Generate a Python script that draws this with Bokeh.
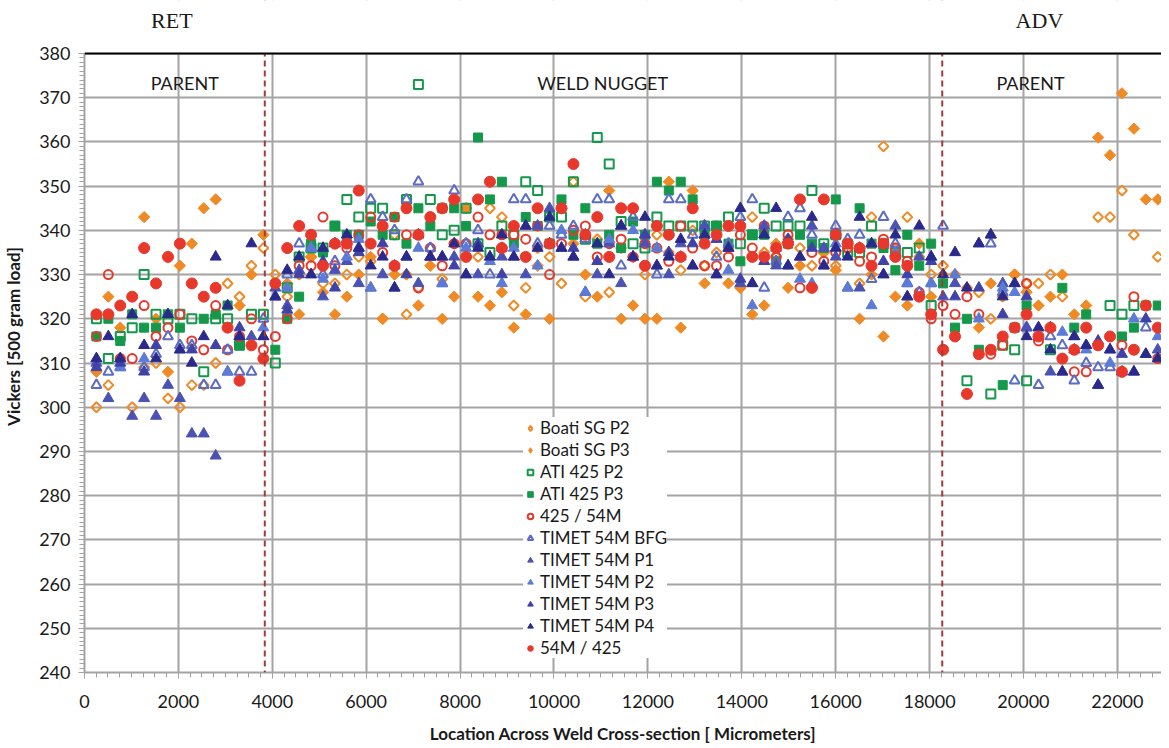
from bokeh.plotting import figure
from bokeh.models import (ColumnDataSource, Label, Span, Legend, LegendItem,
                          FixedTicker, Range1d, BoxAnnotation)
from bokeh.embed import file_html
from bokeh.resources import INLINE

# ---------------- data ----------------
x_um = [254, 508, 762, 1016, 1270, 1524, 1778, 2032, 2286, 2540,
        2794, 3048, 3302, 3556, 3810, 4064, 4318, 4572, 4826, 5080,
        5334, 5588, 5842, 6096, 6350, 6604, 6858, 7112, 7366, 7620,
        7874, 8128, 8382, 8636, 8890, 9144, 9398, 9652, 9906, 10160,
        10414, 10668, 10922, 11176, 11430, 11684, 11938, 12192, 12446, 12700,
        12954, 13208, 13462, 13716, 13970, 14224, 14478, 14732, 14986, 15240,
        15494, 15748, 16002, 16256, 16510, 16764, 17018, 17272, 17526, 17780,
        18034, 18288, 18542, 18796, 19050, 19304, 19558, 19812, 20066, 20320,
        20574, 20828, 21082, 21336, 21590, 21844, 22098, 22352, 22606, 22860]

boati_p2 = [300, 305, 311, 300, 309, 310, 302, 300, 305, 305,
            310, 328, 325, 332, 336, 330, 325, 330, 334, 328,
            328, 330, 334, 333, 320, 339, 321, 327, 336, 329,
            337, 345, 334, 345, 343, 323, 327, 336, 334, 328,
            351, 325, 338, 326, 336, 334, 330, 339, 335, 331,
            340, 332, 335, 336, 327, 343, 335, 334, 338, 336,
            332, 335, 332, 336, 328, 343, 359, 336, 343, 334,
            330, 332, 330, 327, 326, 320, 325, 330, 328, 328,
            330, 325, None, None, 343, 343, 349, 339, None, 334]

boati_p3 = [308, 325, 318, None, 343, 320, 308, 332, 337, 345,
            347, None, 323, 330, 339, None, 328, 321, 334, 326,
            321, 325, 330, 334, 320, 330, 330, 323, 332, 320,
            325, 345, 325, 323, 326, 318, 321, 332, 320, 345,
            337, 330, 325, 349, 320, 323, 320, 320, 351, 318,
            349, 328, 341, 328, 327, 321, 323, 337, 327, 332,
            327, 335, 331, 337, 320, 330, 316, 325, 323, 337,
            325, 330, None, None, 318, 328, None, 330, 326, 323,
            325, 330, 321, 323, 361, 357, 371, 363, 347, 347]

ati_p2 = [320, 311, 316, 318, 330, 321, 320, 321, 320, 308,
          320, 320, 314, 321, 321, 310, 327, 334, 336, 336,
          341, 347, 343, 345, 345, 339, 347, 373, 347, 339,
          340, 345, 337, 335, 341, 339, 351, 349, 343, 343,
          351, 338, 361, 355, 342, 337, 336, 343, 341, 341,
          341, 341, 341, 343, 337, 339, 345, 341, 341, 341,
          349, 337, 339, 335, 335, 341, 337, 335, 335, 336,
          323, None, None, 306, None, 303, 314, 313, 306, None,
          313, None, None, None, None, 323, 321, 323, None, None]

ati_p3 = [316, 320, 315, 321, 318, 318, 321, 318, None, 320,
          321, 323, 314, None, None, 313, 320, 325, 337, 335,
          341, 339, 339, 342, 339, 343, 337, 345, 341, 345,
          345, 341, 361, 347, 351, 337, 343, 341, 337, 347,
          339, 345, 337, 339, 336, 342, 339, 351, 349, 351,
          347, 339, 341, 337, 333, 339, 339, 333, 337, 339,
          337, 336, 347, 337, 345, 337, 336, 331, 339, 332,
          337, 328, 318, 320, 313, None, 305, 318, 323, None,
          None, 327, 318, 321, None, None, 316, 318, 323, 323]

c425_54m = [316, 330, 311, 311, 323, 316, 318, 321, 315, 313,
            323, 313, 316, 320, 313, 316, 320, 332, 332, 343,
            332, 336, 339, 343, 335, 343, 339, 327, 336, 332,
            337, 337, 343, 339, 339, 339, 338, 341, 330, 337,
            340, 341, 334, 337, 338, 334, 337, 336, 333, 341,
            336, 332, 332, 334, 339, 336, 341, 334, 339, 327,
            335, 333, 335, 336, 333, 334, 338, 336, 333, 326,
            320, 323, 321, 325, 321, 312, 314, None, 328, 315,
            None, None, 308, 308, None, None, 314, 325, None, 311]

timet_bfg = [305, 308, 309, None, 309, 312, 316, 314, 314, 305,
             305, 313, 308, 308, 320, 325, 330, 337, 336, 330,
             333, 338, 336, 347, 343, 340, 347, 351, 336, 328,
             349, 337, 340, 330, 336, 347, 347, 337, 341, 339,
             341, 338, 347, 347, 332, 343, 339, 330, 347, 347,
             339, 341, 334, 337, 343, 347, 327, 333, 343, 345,
             339, 332, 341, 338, 339, 329, 343, 337, 328, 326,
             328, 341, None, None, None, 337, 326, 306, 318, 305,
             316, 314, 306, 310, 309, 309, None, None, 318, None]

timet_p1 = [310, 302, 311, 298, 302, 298, 305, 302, 294, 294,
            289, 308, 316, 316, 316, 327, 323, 331, 330, 325,
            331, 333, 328, 327, 330, 327, 334, 328, 334, 334,
            334, 330, 330, 334, 334, 334, 330, 341, 345, 336,
            334, 326, 330, 337, 328, 334, 337, 332, 330, 337,
            332, 341, 330, 336, 328, 328, 341, 332, 332, 334,
            341, 336, 334, 327, 327, 337, 330, 341, 325, 334,
            334, 325, 328, None, 337, 339, 328, 328, 318, 316,
            308, 308, 316, 314, 305, 313, None, 308, 312, 313]

timet_p2 = [311, None, 309, None, 311, None, None, 313, None, None,
            None, 308, None, None, 318, 325, 327, None, 336, 329,
            None, 334, 338, 327, None, 332, None, 336, None, 328,
            None, 336, None, 333, 328, 336, None, 332, None, 340,
            None, 326, None, 338, None, 340, None, 336, None, 334,
            None, 339, None, 331, None, 323, None, 336, None, 329,
            328, None, 337, 327, None, 323, None, 335, 328, None,
            328, None, 330, None, 320, None, 327, 326, None, 318,
            None, 317, None, 313, None, 310, None, 320, None, 316]

timet_p3 = [309, None, 310, None, 308, 314, None, None, 313, None,
            314, None, 318, None, None, None, 322, 330, None, 333,
            327, None, 335, None, 337, None, 330, None, 334, None,
            332, None, 337, None, 330, None, 341, None, 337, None,
            336, None, 333, None, 341, None, 339, None, 335, None,
            337, None, 338, None, 329, None, 333, None, 338, None,
            336, None, 339, None, 336, None, 333, None, 330, None,
            333, None, 325, None, 327, None, 321, None, 325, None,
            318, None, 313, None, 315, None, 312, None, 320, None]

timet_p4 = [311, 316, 311, 321, 314, 311, 321, 313, 310, 316,
            334, 323, 316, 337, 316, 325, 331, 334, 330, 336,
            337, 339, 336, 332, 334, 327, 334, 339, 334, 334,
            337, 330, 336, 334, 339, 334, 341, 336, 343, 336,
            334, 339, 337, 330, 341, 334, 343, 332, 334, 338,
            332, 339, 330, 336, 345, 328, 339, 345, 332, 334,
            343, 332, 336, 334, 343, 337, 330, 339, 325, 341,
            334, 330, 335, 327, 337, 339, 325, 328, 316, 318,
            313, 308, 316, 314, 305, 313, 308, 308, 312, 311]

m54_425 = [321, 321, 323, 325, 336, 328, 334, 337, 328, 325,
           327, 318, 306, 314, 311, 328, 336, 341, 339, 332,
           337, 337, 349, 337, 341, 332, 345, 339, 343, 345,
           347, 334, 347, 351, 336, 341, 334, 345, 337, 345,
           355, 339, 343, 334, 345, 345, 332, 341, 339, 334,
           345, 337, 339, 341, 341, 334, 334, 336, 337, 347,
           327, 347, 339, 337, 336, 332, 337, 334, 332, 325,
           321, 313, 316, 303, 312, 313, 316, 318, 321, 316,
           318, 311, 313, 318, 314, 316, 308, 313, 323, 318]

x_ticks = [0, 2000, 4000, 6000, 8000, 10000, 12000, 14000, 16000, 18000, 20000, 22000]
y_ticks = [240, 250, 260, 270, 280, 290, 300, 310, 320, 330, 340, 350, 360, 370, 380]
zone_bounds = [3840, 18270]

Y_MIN, Y_MAX = 240, 380

# ---------------- figure ----------------
# frame extends above 380 so that the RET / ADV labels can be drawn; that strip is blanked
p = figure(width=1161, height=748, x_range=Range1d(0, 22940), y_range=Range1d(Y_MIN, 391.99),
           output_backend="svg", toolbar_location=None,
           min_border_left=76, min_border_right=0, min_border_top=0, min_border_bottom=76)
p.outline_line_color = None
p.background_fill_color = "white"
p.border_fill_color = "white"

GRID = "#a3a3a3"
p.xaxis.ticker = FixedTicker(ticks=x_ticks, minor_ticks=list(range(0, 23000, 250)))
p.yaxis.ticker = FixedTicker(ticks=y_ticks, minor_ticks=list(range(Y_MIN, Y_MAX + 1, 1)))
p.yaxis.bounds = (Y_MIN, Y_MAX)
for g in (p.xgrid, p.ygrid):
    g.grid_line_color = GRID
    g.grid_line_width = 2

for ax in (p.xaxis, p.yaxis):
    ax.axis_line_color = GRID
    ax.axis_line_width = 2
    ax.major_tick_line_color = GRID
    ax.minor_tick_line_color = GRID
    ax.major_tick_in = 0
    ax.minor_tick_in = 0
    ax.major_tick_out = 6
    ax.minor_tick_out = 5
    ax.major_label_text_font = "Lato"
    ax.major_label_text_font_size = "18px"
    ax.major_label_text_color = "#1a1a1a"
    ax.axis_label_text_font = "Lato"
    ax.axis_label_text_font_style = "bold"
    ax.axis_label_text_font_size = "17px"
    ax.axis_label_text_color = "#1a1a1a"

p.xaxis.axis_label = "Location Across Weld Cross-section [ Micrometers]"
p.xaxis.major_label_standoff = 16
p.xaxis.axis_label_standoff = 12
p.yaxis.axis_label = "Vickers [500 gram load]"
p.yaxis.major_label_standoff = 8
p.yaxis.axis_label_standoff = 12

ORANGE = "#f08a24"
GREEN = "#14994a"
RED = "#e8382b"
BFG = "#5b6cc4"
P1 = "#4a52b3"
P2 = "#5c7bd6"
P3 = "#3f43a8"
P4 = "#2a2a8c"


def src(vals):
    xs = [x for x, v in zip(x_um, vals) if v is not None]
    ys = [v for v in vals if v is not None]
    return ColumnDataSource(dict(x=xs, y=ys))


items = []


def add(label, vals, marker, color, filled, size, angle=0.0, legend_marker=None, legend_size=None):
    fc = color if filled else None
    lw = 1 if filled else 2
    s = src(vals)
    r = p.scatter("x", "y", source=s, marker=marker, size=size, angle=angle,
                  fill_color=fc, line_color=color, line_width=lw)
    rl = r
    if legend_marker is not None:
        # hidden twin of the series, only used to draw the legend symbol
        rl = p.scatter("x", "y", source=s, marker=legend_marker, size=legend_size,
                       fill_color=fc, line_color=color, line_width=lw, visible=False)
    items.append(LegendItem(label=label, renderers=[rl]))


add("Boati SG P2", boati_p2, "square", ORANGE, False, 7, 0.785398, "diamond", 12)
add("Boati SG P3", boati_p3, "square", ORANGE, True, 8, 0.785398, "diamond", 13)
add("ATI 425 P2", ati_p2, "square", GREEN, False, 9)
add("ATI 425 P3", ati_p3, "square", GREEN, True, 9)
add("425 / 54M", c425_54m, "circle", RED, False, 9)
add("TIMET 54M BFG", timet_bfg, "triangle", BFG, False, 10)
add("TIMET 54M P1", timet_p1, "triangle", P1, True, 11)
add("TIMET 54M P2", timet_p2, "triangle", P2, True, 11)
add("TIMET 54M P3", timet_p3, "triangle", P3, True, 11)
add("TIMET 54M P4", timet_p4, "triangle", P4, True, 11)
add("54M / 425", m54_425, "circle", RED, True, 11)

# zone boundaries
for b in zone_bounds:
    p.add_layout(Span(location=b, dimension="height", line_color="#a33a3a",
                      line_width=2, line_dash="6 4"))
# blank strip above the plot area
p.add_layout(BoxAnnotation(bottom=Y_MAX, fill_color="white", fill_alpha=1.0, line_color=None))
# top border of plot
p.add_layout(Span(location=Y_MAX, dimension="width", line_color="black", line_width=2))

# zone labels
for tx, xx in (("PARENT", 2135), ("WELD NUGGET", 11036), ("PARENT", 20150)):
    p.add_layout(Label(x=xx, y=373.4, text=tx, text_align="center", text_baseline="middle",
                       text_font="Lato", text_font_size="18px", text_color="#1a1a1a"))
for tx, xx in (("RET", 1860), ("ADV", 20340)):
    p.add_layout(Label(x=xx, y=387.5, text=tx, text_align="center", text_baseline="middle",
                       text_font="Liberation Serif", text_font_size="22px", text_color="#1a1a1a"))

legend = Legend(items=items, location=(439, 14), background_fill_color="white",
                background_fill_alpha=1.0, border_line_color=None,
                label_text_font="Lato", label_text_font_size="17px", label_text_color="#1a1a1a",
                glyph_width=14, glyph_height=14, label_height=20, spacing=1,
                padding=4, margin=0, label_standoff=3,
                inactive_fill_alpha=0.0)
p.add_layout(legend)

open("out.html", "w").write(file_html(p, INLINE))
